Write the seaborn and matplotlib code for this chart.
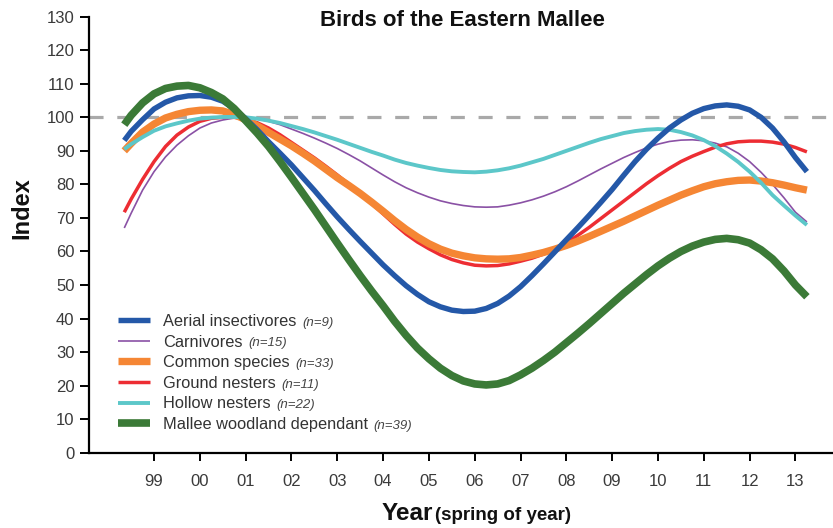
import matplotlib
matplotlib.use("Agg")
import matplotlib.pyplot as plt
import seaborn as sns

# ---------------- data (quarter-year readings) ----------------
years = [1998.35, 1998.5, 1998.75,
         1999.0, 1999.25, 1999.5, 1999.75, 2000.0, 2000.25, 2000.5, 2000.75,
         2001.0, 2001.25, 2001.5, 2001.75, 2002.0, 2002.25, 2002.5, 2002.75,
         2003.0, 2003.25, 2003.5, 2003.75, 2004.0, 2004.25, 2004.5, 2004.75,
         2005.0, 2005.25, 2005.5, 2005.75, 2006.0, 2006.25, 2006.5, 2006.75,
         2007.0, 2007.25, 2007.5, 2007.75, 2008.0, 2008.25, 2008.5, 2008.75,
         2009.0, 2009.25, 2009.5, 2009.75, 2010.0, 2010.25, 2010.5, 2010.75,
         2011.0, 2011.25, 2011.5, 2011.75, 2012.0, 2012.25, 2012.5, 2012.75,
         2013.0, 2013.25]

aerial_insectivores = [93.1, 95.8, 99.3,
                       102.5, 104.5, 105.8, 106.4, 106.5, 106.0, 104.8, 102.6,
                       99.6, 96.3, 92.7, 89.3, 85.8, 82.0, 78.2, 74.2,
                       70.3, 66.6, 63.0, 59.5, 56.0, 52.8, 49.8, 47.2,
                       45.0, 43.5, 42.5, 42.1, 42.2, 43.0, 44.5, 46.7,
                       49.5, 52.8, 56.3, 59.9, 63.5, 67.1, 70.8, 74.6,
                       78.5, 82.7, 86.8, 90.5, 93.8, 96.8, 99.2, 101.2,
                       102.6, 103.4, 103.7, 103.3, 102.2, 100.0, 96.8, 92.7,
                       88.0, 83.8]
carnivores = [67.0, 71.4, 78.3,
              83.8, 88.2, 91.7, 94.5, 96.8, 98.3, 99.2, 99.8,
              99.9, 99.5, 98.8, 97.8, 96.5, 95.2, 93.8, 92.3,
              90.7, 88.9, 87.0, 84.9, 82.8, 80.8, 79.0, 77.5,
              76.2, 75.1, 74.3, 73.7, 73.3, 73.2, 73.3, 73.8,
              74.5, 75.4, 76.5, 77.8, 79.3, 81.0, 82.8, 84.6,
              86.3, 88.0, 89.5, 90.9, 92.0, 92.8, 93.2, 93.3,
              93.0, 92.3, 91.2, 89.3, 86.8, 83.6, 80.0, 76.0,
              71.7, 68.8]
common_species = [90.0, 92.2, 95.6,
                  98.0, 99.8, 100.9, 101.7, 102.1, 102.2, 101.9, 100.8,
                  99.3, 97.5, 95.5, 93.5, 91.5, 89.3, 87.0, 84.5,
                  82.0, 79.7, 77.3, 74.7, 72.0, 69.2, 66.6, 64.3,
                  62.3, 60.7, 59.5, 58.7, 58.1, 57.8, 57.7, 57.8,
                  58.2, 58.9, 59.7, 60.7, 61.8, 63.1, 64.5, 66.0,
                  67.5, 69.0, 70.6, 72.2, 73.8, 75.3, 76.8, 78.1,
                  79.3, 80.2, 80.8, 81.2, 81.3, 81.0, 80.5, 79.8,
                  79.0, 78.3]
ground_nesters = [71.7, 75.6, 81.5,
                  86.8, 91.3, 94.7, 97.1, 98.8, 99.7, 100.0, 100.0,
                  99.5, 98.4, 96.8, 94.8, 92.5, 90.2, 87.9, 85.4,
                  82.8, 80.1, 77.4, 74.3, 71.2, 68.1, 65.2, 62.8,
                  60.8, 59.0, 57.6, 56.6, 55.9, 55.7, 55.8, 56.3,
                  57.1, 58.0, 59.2, 60.8, 62.6, 64.8, 67.2, 69.8,
                  72.4, 75.0, 77.6, 80.2, 82.6, 84.8, 86.8, 88.4,
                  89.8, 91.1, 92.1, 92.7, 92.9, 92.9, 92.6, 92.0,
                  91.0, 89.7]
hollow_nesters = [90.5, 92.0, 94.1,
                  96.0, 97.3, 98.2, 99.0, 99.6, 99.9, 100.1, 100.1,
                  100.0, 99.6, 99.0, 98.3, 97.4, 96.5, 95.5, 94.4,
                  93.3, 92.1, 90.9, 89.7, 88.6, 87.4, 86.4, 85.6,
                  84.9, 84.3, 83.9, 83.7, 83.6, 83.8, 84.2, 84.8,
                  85.6, 86.6, 87.6, 88.8, 90.0, 91.2, 92.4, 93.5,
                  94.4, 95.3, 95.9, 96.3, 96.5, 96.3, 95.6, 94.6,
                  93.2, 91.4, 89.2, 86.7, 83.8, 80.5, 76.8, 73.7,
                  70.7, 67.9]
mallee_woodland = [97.8, 100.6, 104.3,
                   107.0, 108.6, 109.3, 109.5, 108.8, 107.4, 105.5, 102.6,
                   99.0, 95.3, 91.3, 86.8, 82.1, 77.3, 72.5, 67.5,
                   62.5, 57.6, 52.8, 48.2, 43.8, 39.2, 35.0, 31.2,
                   28.0, 25.2, 23.0, 21.4, 20.5, 20.2, 20.5, 21.5,
                   23.2, 25.2, 27.5, 30.0, 32.8, 35.6, 38.5, 41.5,
                   44.5, 47.5, 50.3, 53.1, 55.7, 58.0, 60.0, 61.6,
                   62.8, 63.6, 63.9, 63.5, 62.5, 60.5, 57.8, 54.2,
                   50.0, 46.5]

series_names = ["Aerial insectivores", "Carnivores", "Common species",
                "Ground nesters", "Hollow nesters", "Mallee woodland dependant"]
series_counts = ["(n=9)", "(n=15)", "(n=33)", "(n=11)", "(n=22)", "(n=39)"]

tick_years = list(range(1999, 2014))
tick_labels = ["99", "00", "01", "02", "03", "04", "05", "06", "07", "08",
               "09", "10", "11", "12", "13"]
y_ticks = list(range(0, 131, 10))
baseline = 100

# ---------------- style ----------------
sns.set_theme(style="white")
plt.rcParams["font.family"] = ["Liberation Sans", "DejaVu Sans"]

values = [aerial_insectivores, carnivores, common_species,
          ground_nesters, hollow_nesters, mallee_woodland]
colors = ["#2458a8", "#8a51a5", "#f58634", "#ed2d33", "#5cc7c9", "#3b7a37"]
widths = [3.9, 1.2, 5.3, 2.5, 2.8, 5.5]
draw_order = [1, 3, 2, 4, 0, 5]

fig = plt.figure(figsize=(8.33, 5.28), dpi=100)
ax = fig.add_axes([89 / 833, 1 - 452.7 / 528, 1 - 89 / 833, (452.7 - 16.7) / 528])

ax.axhline(baseline, color="#a9a9a9", lw=2.3, ls=(0, (4.4, 4.3)), zorder=1)

handles = {}
for k in draw_order:
    sns.lineplot(x=years, y=values[k], ax=ax, color=colors[k], lw=widths[k],
                 sort=True, legend=False, zorder=2 + draw_order.index(k))
    line = ax.lines[-1]
    line.set_solid_joinstyle("round")
    line.set_solid_capstyle("butt")
    handles[k] = line

ax.set_xlim(1997.58, 2013.82)
ax.set_ylim(0, 130)
ax.set_xticks(tick_years)
ax.set_xticklabels(tick_labels)
ax.set_yticks(y_ticks)

for s in ["top", "right"]:
    ax.spines[s].set_visible(False)
for s in ["left", "bottom"]:
    ax.spines[s].set_color("black")
    ax.spines[s].set_linewidth(1.6)

ax.tick_params(axis="x", direction="out", length=6, width=1.4, color="black",
               pad=9, labelsize=12, labelcolor="#3a3a3a", bottom=True)
ax.tick_params(axis="y", direction="out", length=6.5, width=1.4, color="black",
               pad=4, labelsize=12, labelcolor="#3a3a3a", left=True)
ax.set_xlabel("")
ax.set_ylabel("")
ax.grid(False)

# title
fig.text(462 / 833, 1 - 20 / 528, "Birds of the Eastern Mallee", ha="center",
         va="center", fontsize=16, fontweight="bold", color="#111111")

# axis labels
fig.text(22 / 833, 1 - 208 / 528, "Index", rotation=90, ha="center", va="center",
         fontsize=17, fontweight="bold", color="#111111")
fig.text(433 / 833, 1 - 520 / 528, "Year", ha="right", va="baseline",
         fontsize=17.5, fontweight="bold", color="#111111")
fig.text(435 / 833, 1 - 520 / 528, "(spring of year)", ha="left", va="baseline",
         fontsize=13.5, fontweight="bold", color="#111111")

# legend
leg_handles = [handles[k] for k in range(len(series_names))]
leg = ax.legend(leg_handles, series_names, loc="upper left",
                bbox_to_anchor=(118 / 833, 1 - 314 / 528),
                bbox_transform=fig.transFigure, frameon=False, fontsize=11.8,
                handlelength=1.95, handletextpad=0.8, labelspacing=0.34,
                borderpad=0, borderaxespad=0)
for t in leg.get_texts():
    t.set_color("#333333")

fig.canvas.draw()
for t, n in zip(leg.get_texts(), series_counts):
    ax.annotate(n, xy=(1, 0.5), xycoords=t, xytext=(4, -1),
                textcoords="offset points", va="center", ha="left",
                fontsize=9.5, style="italic", color="#444444")

fig.savefig("out.png", dpi=100)
